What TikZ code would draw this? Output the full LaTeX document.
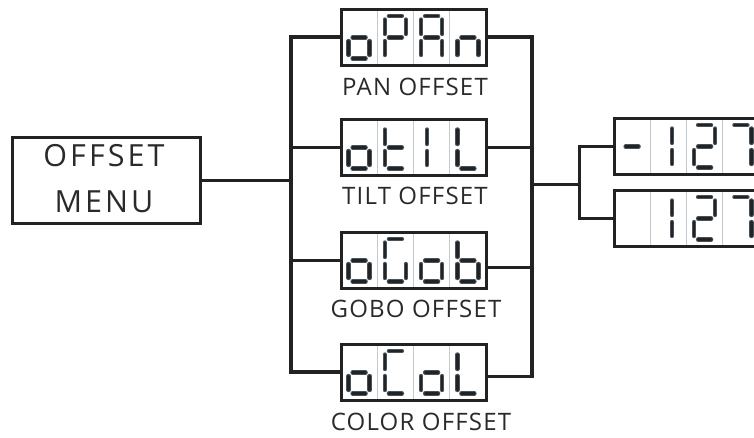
\documentclass[tikz,border=0pt]{standalone}
\usepackage{fontspec}
\setmainfont{Open Sans}
\newfontfamily\labfont[LetterSpace=5]{Open Sans}
\newfontfamily\menufont[LetterSpace=10]{Open Sans}
\definecolor{linecol}{HTML}{222222}
\definecolor{txtcol}{HTML}{2A2A2A}
\definecolor{segedge}{HTML}{4A5258}
\definecolor{segcore}{HTML}{1E2428}
\definecolor{divcol}{HTML}{C4C9CE}
\tikzset{
  segstyle/.style={line cap=round, line width=4.4pt, draw=segedge,
    postaction={draw=segcore, line width=2.4pt, line cap=round}},
  dispbox/.style={draw=linecol, line width=3pt, rectangle, minimum width=145pt,
    minimum height=56pt, inner sep=0pt, outer sep=0pt},
  menubox/.style={draw=linecol, line width=3pt, rectangle, minimum width=188pt,
    minimum height=86pt, inner sep=0pt, outer sep=0pt},
  lab/.style={text=txtcol, inner sep=0pt, font=\labfont\fontsize{24}{28}\selectfont},
  menutxt/.style={text=txtcol, inner sep=0pt, font=\menufont\fontsize{30.5}{34}\selectfont},
  bus/.style={draw=linecol, line width=3.6pt},
  branch/.style={draw=linecol, line width=3pt},
}
% seven segment pieces: #1 = cell centre x, #2 = box top y
\newcommand\segXa[2]{\draw[segstyle] ({#1-6.5},{#2+7}) -- ({#1+6.5},{#2+7});}
\newcommand\segXb[2]{\draw[segstyle] ({#1+10.5},{#2+10.5}) -- ({#1+10.5},{#2+25});}
\newcommand\segXc[2]{\draw[segstyle] ({#1+10.5},{#2+32}) -- ({#1+10.5},{#2+46});}
\newcommand\segXd[2]{\draw[segstyle] ({#1-6.5},{#2+49.5}) -- ({#1+6.5},{#2+49.5});}
\newcommand\segXe[2]{\draw[segstyle] ({#1-10.5},{#2+32}) -- ({#1-10.5},{#2+46});}
\newcommand\segXf[2]{\draw[segstyle] ({#1-10.5},{#2+10.5}) -- ({#1-10.5},{#2+25});}
\newcommand\segXg[2]{\draw[segstyle] ({#1-6.5},{#2+28.5}) -- ({#1+6.5},{#2+28.5});}
\newcommand\sevenseg[3]{\foreach \s in {#3}{\csname segX\s\endcsname{#1}{#2}}}
% cell dividers: #1 = box left x, #2 = box top y
\newcommand\celldividers[2]{\foreach \k in {1,2,3}{\draw[divcol, line width=1pt] ({#1+36.25*\k},{#2+1.5}) -- ({#1+36.25*\k},{#2+54.5});}}
\begin{document}
\begin{tikzpicture}[x=1pt, y=-1pt]
\useasboundingbox[fill=white] (0,0) rectangle (754,437);

% coordinates of the buses
\coordinate (busLx) at (291,0);
\coordinate (busRx) at (532,0);
\coordinate (splitx) at (579,0);
\coordinate (busRmid) at (532,184);

% menu box
\node[menubox] (menu) at (106,180) {};
\node[menutxt] (menut1) at (104,156) {OFFSET};
\node[menutxt] (menut2) at (104,201.5) {MENU};

% display boxes: dividers first
\celldividers{341}{9}
\celldividers{341}{119}
\celldividers{341}{232}
\celldividers{341}{344}
\celldividers{614}{118}
\celldividers{614}{190}

\node[dispbox] (pan)   at (413.5,37)  {};
\node[dispbox] (tilt)  at (413.5,147) {};
\node[dispbox] (gobo)  at (413.5,260) {};
\node[dispbox] (color) at (413.5,372) {};
\node[dispbox] (neg)   at (686.5,146) {};
\node[dispbox] (pos)   at (686.5,218) {};

% digits: oPAn
\sevenseg{359.1}{9}{c,d,e,g}
\sevenseg{395.4}{9}{a,b,e,f,g}
\sevenseg{431.6}{9}{a,b,c,e,f,g}
\sevenseg{467.9}{9}{c,e,g}
% otIL
\sevenseg{359.1}{119}{c,d,e,g}
\sevenseg{395.4}{119}{d,e,f,g}
\sevenseg{416.5}{119}{b,c}
\sevenseg{467.9}{119}{d,e,f}
% oGob
\sevenseg{359.1}{232}{c,d,e,g}
\sevenseg{395.4}{232}{a,c,d,e,f}
\sevenseg{431.6}{232}{c,d,e,g}
\sevenseg{467.9}{232}{c,d,e,f,g}
% oCoL
\sevenseg{359.1}{344}{c,d,e,g}
\sevenseg{395.4}{344}{a,d,e,f}
\sevenseg{431.6}{344}{c,d,e,g}
\sevenseg{467.9}{344}{d,e,f}
% -127
\sevenseg{632.1}{118}{g}
\sevenseg{661.5}{118}{b,c}
\sevenseg{704.6}{118}{a,b,d,e,g}
\sevenseg{740.9}{118}{a,b,c}
% 127
\sevenseg{661.5}{190}{b,c}
\sevenseg{704.6}{190}{a,b,d,e,g}
\sevenseg{740.9}{190}{a,b,c}

% labels
\node[lab] (panlab)   at (415,86.7)  {PAN OFFSET};
\node[lab] (tiltlab)  at (415,196)   {TILT OFFSET};
\node[lab] (gobolab)  at (416,308.5) {GOBO OFFSET};
\node[lab] (colorlab) at (421,421.5) {COLOR OFFSET};

% left connectors
\draw[branch] (menu.east) -- (menu.east -| busLx);
\draw[bus] (pan.west) -- (pan.west -| busLx) -- (color.west -| busLx) -- (color.west);
\draw[branch] (tilt.west) -- (tilt.west -| busLx);
\draw[branch] (gobo.west) -- (gobo.west -| busLx);

% right connectors
\draw[bus] (pan.east) -- (pan.east -| busRx) -- ([yshift=-4.5pt]color.east -| busRx) -- ([yshift=-4.5pt]color.east);
\draw[branch] (tilt.east) -- (tilt.east -| busRx);
\draw[branch] ([yshift=-7pt]gobo.east) -- ([yshift=-7pt]gobo.east -| busRx);
\draw[branch] (busRmid) -- (busRmid -| splitx);
\draw[branch] (neg.west) -- (neg.west -| splitx) -- (pos.west -| splitx) -- (pos.west);
\end{tikzpicture}
\end{document}
